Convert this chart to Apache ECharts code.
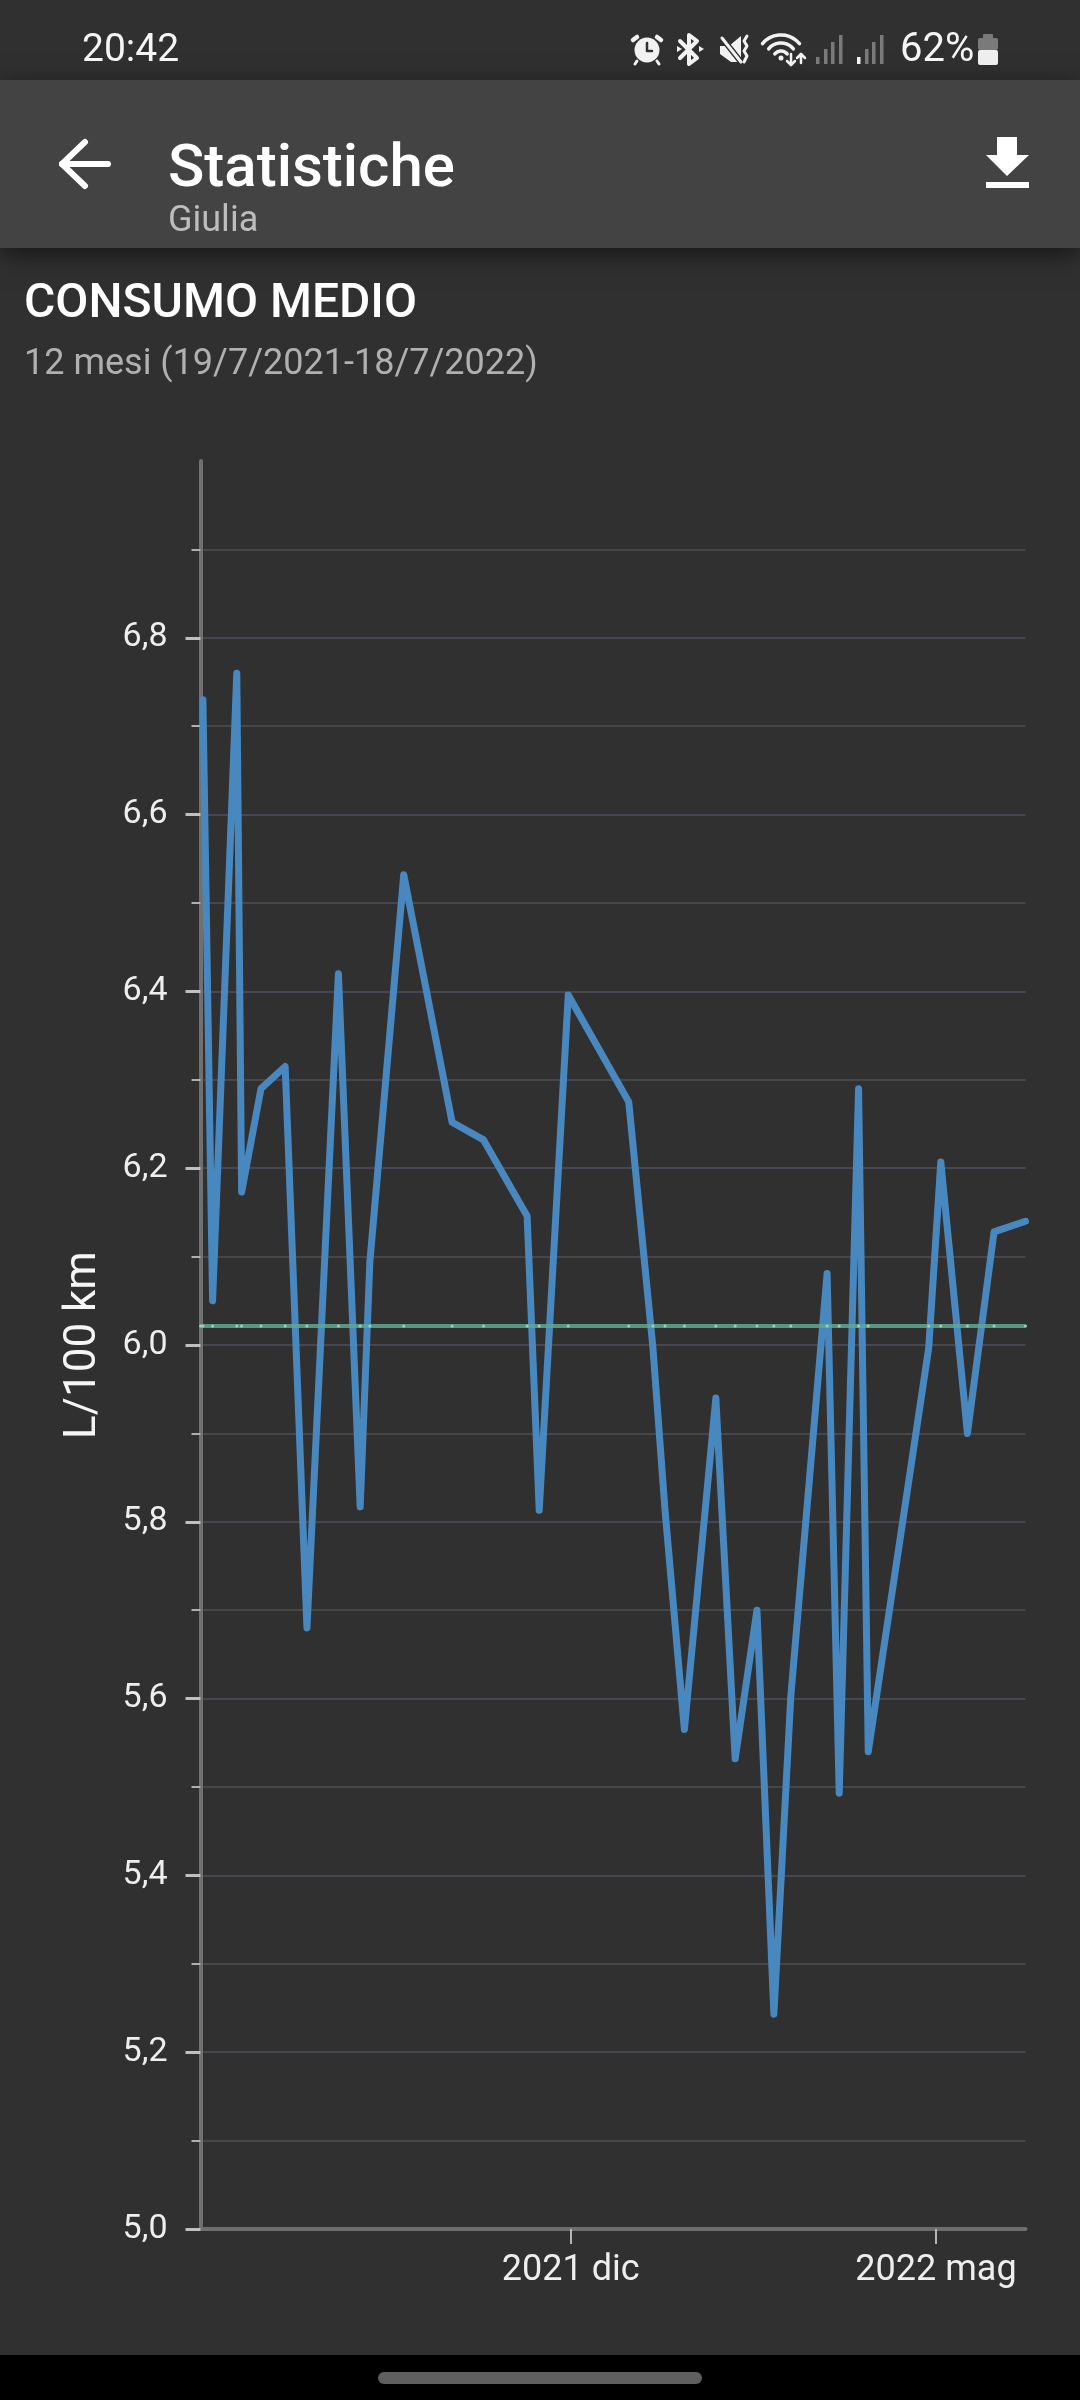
<!DOCTYPE html>
<html>
<head>
<meta charset="utf-8">
<style>html,body{margin:0;padding:0;background:#303030}#c{width:1080px;height:2400px}</style>
<script src="https://cdn.jsdelivr.net/npm/echarts@6/dist/echarts.min.js"></script>
</head>
<body>
<div id="c"></div>
<script>
const dates = ['2021-07-02','2021-07-06','2021-07-16','2021-07-18','2021-07-26','2021-08-05','2021-08-14','2021-08-27','2021-09-05','2021-09-09','2021-09-23','2021-10-13','2021-10-26','2021-11-13','2021-11-18','2021-11-30','2021-12-25','2022-01-04','2022-01-09','2022-01-17','2022-01-30','2022-02-07','2022-02-16','2022-02-23','2022-03-02','2022-03-17','2022-03-22','2022-03-30','2022-04-03','2022-04-28','2022-05-03','2022-05-14','2022-05-25','2022-06-07'];
const consumption = [6.73,6.05,6.76,6.173,6.29,6.315,5.68,6.42,5.817,6.094,6.532,6.252,6.232,6.146,5.813,6.396,6.275,5.997,5.813,5.565,5.94,5.532,5.70,5.243,5.603,6.081,5.493,6.29,5.54,5.997,6.207,5.90,6.128,6.14];
const averageValue = 6.0215;
const yTicks = [5.0,5.2,5.4,5.6,5.8,6.0,6.2,6.4,6.6,6.8];
const xTickDates = ['2021-12-01','2022-05-01'];
const xTickLabels = ['2021 dic','2022 mag'];
const axisStart = '2021-07-01';
const axisEnd = '2022-06-07';
const FONT = 'Roboto';

const ts = s => Date.parse(s + 'T00:00:00Z');
const xTs = xTickDates.map(ts);

function txt(text, x, y, size, fill, weight, align) {
  return {type:'text', z:50, style:{text, x, y, fill, textAlign:align||'left', textVerticalAlign:'middle',
    font:(weight||400)+' '+size+'px '+FONT}};
}
function rect(x,y,w,h,fill,r,extra) {
  return {type:'rect', z:40, shape:{x,y,width:w,height:h,r:r||0}, style:Object.assign({fill},extra||{})};
}
function poly(points, fill) { return {type:'polygon', z:50, shape:{points}, style:{fill}}; }
function stroke(points, color, w) { return {type:'polyline', z:50, shape:{points}, style:{stroke:color,lineWidth:w,fill:'none',lineCap:'round',lineJoin:'round'}}; }
function arc(cx,cy,r,a0,a1,color,w) { return {type:'arc', z:50, shape:{cx,cy,r,startAngle:a0,endAngle:a1}, style:{stroke:color,lineWidth:w,fill:'none',lineCap:'round'}}; }
function circle(cx,cy,r,fill){ return {type:'circle', z:50, shape:{cx,cy,r}, style:{fill}}; }

const W='#f2f2f2', D='#7a7a7a';
const chrome = [
  rect(0,80,1080,168,'#434343',0,{shadowBlur:24,shadowColor:'rgba(0,0,0,0.55)',shadowOffsetY:6}),
  rect(0,2355,1080,45,'#000000'),
  rect(378,2372,324,12,'#5f5f5f',6),
  txt('20:42',82,51,39,'#f5f5f5'),
  txt('62%',900,51,40,'#f5f5f5'),
  // alarm
  circle(647,50,12.5,W), stroke([[637,37],[633,40]],W,4.5), stroke([[657,37],[661,40]],W,4.5),
  stroke([[637,61],[635,64]],W,3), stroke([[657,61],[659,64]],W,3), stroke([[647,43],[647,51],[652,51]],'#303030',2.5),
  // bluetooth
  stroke([[680,41],[697,58],[689,64],[689,35],[697,41],[680,58]],W,4),
  poly([[677,46],[682,49],[677,52]],W), poly([[699,46],[704,49],[699,52]],W),
  // mute
  poly([[720,46],[729,46],[741,36],[741,62],[731,62],[720,54]],W), stroke([[722,38],[741,62]],'#303030',6), stroke([[722,38],[741,62]],W,3),
  stroke([[747,36],[744,41],[747,46],[744,51],[747,56],[744,62]],W,3),
  // wifi
  arc(781,59,24,Math.PI*1.22,Math.PI*1.78,W,3.5), arc(781,59,16,Math.PI*1.22,Math.PI*1.78,W,3.5), arc(781,59,8,Math.PI*1.22,Math.PI*1.78,W,3.5), circle(781,58,2.5,W),
  stroke([[791,54],[791,65],[787,61]],W,2.5), stroke([[791,65],[795,61]],W,2.5), stroke([[801,63],[801,54],[797,58]],W,2.5), stroke([[801,54],[805,58]],W,2.5),
  // signal
  rect(816,57,3.5,7,D), rect(824,49,3.5,15,D), rect(831,42,3.5,22,D), rect(839,35,3.5,29,D),
  rect(857,57,3.5,7,W), rect(865,49,3.5,15,D), rect(872,42,3.5,22,D), rect(880,35,3.5,29,D),
  // battery
  rect(983,34,10,5,D,1), rect(978,38,20,12,D,2), rect(978,50,20,15,'#eeeeee',2),
  // app bar
  stroke([[108,164],[62,164]],'#ffffff',6), stroke([[85,142],[62,164],[85,186]],'#ffffff',6),
  txt('Statistiche',168,171,60,'#ffffff',500),
  txt('Giulia',168,222,36,'#bdbdbd'),
  poly([[997,137],[1017,137],[1017,155],[1029,155],[1007,176],[986,155],[997,155]],'#ffffff'),
  rect(986,182,43,6,'#ffffff'),
  txt('CONSUMO MEDIO',24,305,48,'#ffffff',500),
  txt('12 mesi (19/7/2021-18/7/2022)',24,365,36,'#b0b0b0')
];

const chart = echarts.init(document.getElementById('c'), null, {renderer:'canvas', width:1080, height:2400});
chart.setOption({
  animation:false,
  backgroundColor:'#303030',
  textStyle:{fontFamily:FONT},
  grid:{left:200.5,right:54.5,top:461,bottom:171,containLabel:false},
  xAxis:{
    type:'value',
    min:ts(axisStart),
    max:ts(axisEnd),
    axisLine:{show:true,lineStyle:{color:'#6e6e6e',width:4}},
    axisTick:{show:true,length:15,lineStyle:{color:'#b5b5b5',width:2},customValues:xTs},
    minorTick:{show:false},
    splitLine:{show:false},
    axisLabel:{show:true,color:'#eeeeee',fontSize:36,fontFamily:FONT,margin:24,hideOverlap:false,
      customValues:xTs,
      formatter:v=>xTickLabels[xTs.indexOf(+v)]||''}
  },
  yAxis:{
    type:'value',min:5,max:7,interval:0.2,
    name:'L/100 km',nameLocation:'middle',nameRotate:90,nameGap:95,
    nameTextStyle:{color:'#f5f5f5',fontSize:44,fontFamily:FONT},
    axisLine:{show:true,onZero:false,lineStyle:{color:'#707070',width:4}},
    axisTick:{show:true,length:15,lineStyle:{color:'#c0c0c0',width:3},customValues:yTicks},
    minorTick:{show:true,splitNumber:2,length:9,lineStyle:{color:'#b0b0b0',width:2}},
    splitLine:{show:true,lineStyle:{color:'#474752',width:2}},
    minorSplitLine:{show:true,lineStyle:{color:'#46464c',width:2}},
    axisLabel:{color:'#eeeeee',fontSize:34,fontFamily:FONT,margin:33,customValues:yTicks,
      formatter:v=>(+v).toFixed(1).replace('.',',')}
  },
  graphic:{elements:chrome},
  series:[
    {name:'Consumo',type:'line',z:3,showSymbol:false,symbol:'none',
     data:dates.map((d,i)=>[ts(d),consumption[i]]),
     lineStyle:{color:'#4988bf',width:7,join:'round',cap:'round'}},
    {name:'Media',type:'line',z:4,symbol:'circle',symbolSize:3,showSymbol:true,showAllSymbol:true,
     data:[[ts(axisStart),averageValue]].concat(dates.map(d=>[ts(d),averageValue])),
     itemStyle:{color:'#9fd0c0'},
     lineStyle:{color:'rgba(90,170,145,0.85)',width:4}}
  ]
});
</script>
</body>
</html>
